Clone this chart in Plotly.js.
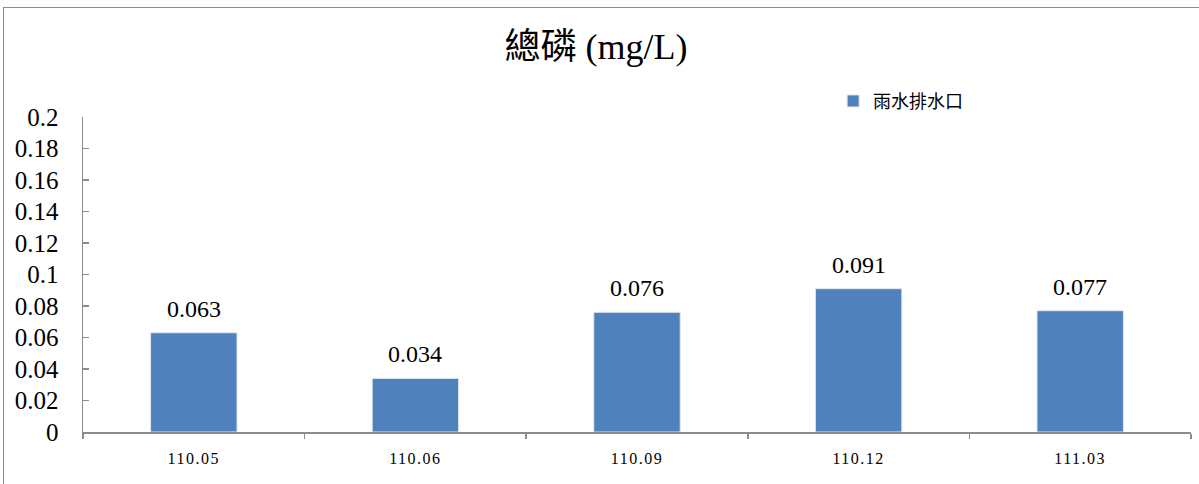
<!DOCTYPE html>
<html>
<head>
<meta charset="utf-8">
<script src="https://cdn.plot.ly/plotly-3.0.1.min.js"></script>
<style>
  html, body { margin: 0; padding: 0; background: #fff; }
  #wrap { position: relative; width: 1199px; height: 484px; }
  #chart { position: absolute; left: 0; top: 0; width: 1199px; height: 484px; }
  #frame { position: absolute; left: 3px; top: 7px; right: -2px; bottom: -2px;
           border-left: 1.5px solid #8c8c8c; border-top: 1.5px solid #8c8c8c; pointer-events: none; }
  /* a little tracking on the period labels */
  #chart .xtick text { letter-spacing: 1.5px; }
</style>
</head>
<body>
<div id="wrap">
  <div id="chart"></div>
  <div id="frame"></div>
</div>
<script>
// Sampling periods and total phosphorus readings at the storm-water outlet
const periods = ['110.05', '110.06', '110.09', '110.12', '111.03'];
const totalP = [0.063, 0.034, 0.076, 0.091, 0.077];
const seriesName = '雨水排水口';
const yTicks = [0, 0.02, 0.04, 0.06, 0.08, 0.1, 0.12, 0.14, 0.16, 0.18, 0.2];

const serif = '"Liberation Serif", "Times New Roman", "Noto Sans CJK TC", serif';

const trace = {
  type: 'bar',
  x: periods,
  y: totalP,
  name: seriesName,
  width: 0.39,
  marker: { color: '#4F81BD', line: { color: '#dfe6ef', width: 1 } },
  hoverinfo: 'x+y'
};

// Value labels above each bar (category index keeps them on the category axis)
const labels = periods.map((p, i) => ({
  x: i, y: totalP[i], xref: 'x', yref: 'y',
  text: String(totalP[i]), showarrow: false,
  yanchor: 'bottom', yshift: 9,
  font: { family: serif, size: 24, color: '#000' }
}));

const layout = {
  width: 1199, height: 484,
  margin: { l: 83, r: 8, t: 117, b: 52 },
  paper_bgcolor: '#fff', plot_bgcolor: '#fff',
  title: {
    text: '總磷 (mg/L)',
    x: 0.497, xref: 'container', xanchor: 'center',
    y: 0.905, yref: 'container', yanchor: 'middle',
    font: { family: serif, size: 36, color: '#000' }
  },
  showlegend: true,
  legend: {
    x: 0.677, xanchor: 'left', y: 1.05, yanchor: 'middle',
    font: { family: '"Noto Sans CJK TC", sans-serif', size: 18, color: '#000' },
    bgcolor: 'rgba(0,0,0,0)', itemwidth: 30
  },
  xaxis: {
    type: 'category',
    range: [-0.5, periods.length - 0.5],
    showline: true, linecolor: '#8c8c8c', linewidth: 1.5,
    showgrid: false, zeroline: false,
    ticks: 'outside', ticklen: 5, tickcolor: '#8c8c8c', tickwidth: 1.5,
    tickson: 'boundaries', tickangle: 0,
    ticklabelstandoff: 11,
    tickfont: { family: serif, size: 16, color: '#000' }
  },
  yaxis: {
    range: [0, 0.2],
    tickvals: yTicks,
    ticktext: yTicks.map(v => String(v)),
    showline: true, linecolor: '#8c8c8c', linewidth: 1.5,
    showgrid: false, zeroline: false,
    ticks: 'inside', ticklen: 6, tickcolor: '#8c8c8c', tickwidth: 1.5,
    ticklabelstandoff: 18,
    tickfont: { family: serif, size: 25, color: '#000' }
  },
  annotations: labels
};

Plotly.newPlot('chart', [trace], layout, { displayModeBar: false, staticPlot: true });
</script>
</body>
</html>
